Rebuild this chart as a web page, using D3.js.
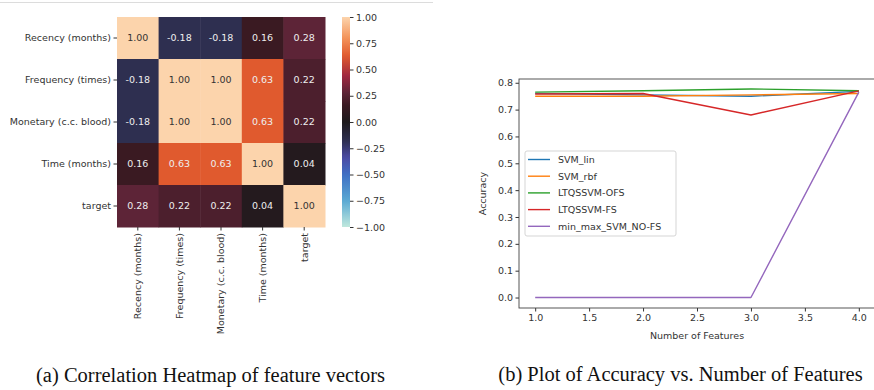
<!DOCTYPE html>
<html>
<head>
<meta charset="utf-8">
<script src="https://cdn.jsdelivr.net/npm/d3@7"></script>
<style>
  html, body { margin: 0; padding: 0; background: #fff; }
  svg { display: block; }
  text { font-family: "DejaVu Sans", sans-serif; fill: #333; }
  .caption { font-family: "Liberation Serif", "Times New Roman", serif; fill: #111; }
</style>
</head>
<body>
<svg id="fig" width="874" height="390"></svg>
<script>
// ---- Correlation heatmap data ----
const features = ["Recency (months)", "Frequency (times)", "Monetary (c.c. blood)", "Time (months)", "target"];
const corr = [
  [1.00, -0.18, -0.18, 0.16, 0.28],
  [-0.18, 1.00, 1.00, 0.63, 0.22],
  [-0.18, 1.00, 1.00, 0.63, 0.22],
  [0.16, 0.63, 0.63, 1.00, 0.04],
  [0.28, 0.22, 0.22, 0.04, 1.00]
];
const colorbarTicks = [1.00, 0.75, 0.50, 0.25, 0.00, -0.25, -0.50, -0.75, -1.00];

// ---- Accuracy vs number of features ----
const numFeatures = [1, 2, 3, 4];
const seriesNames = ["SVM_lin", "SVM_rbf", "LTQSSVM-OFS", "LTQSSVM-FS", "min_max_SVM_NO-FS"];
const svmLin = [0.760, 0.755, 0.750, 0.768];
const svmRbf = [0.750, 0.750, 0.755, 0.760];
const ltqssvmOfs = [0.765, 0.770, 0.777, 0.770];
const ltqssvmFs = [0.758, 0.760, 0.680, 0.770];
const minMaxNoFs = [0.000, 0.000, 0.000, 0.765];
const seriesColors = ["#1f77b4", "#ff7f0e", "#2ca02c", "#d62728", "#9467bd"];
const xTicks = [1.0, 1.5, 2.0, 2.5, 3.0, 3.5, 4.0];
const yTicks = [0.0, 0.1, 0.2, 0.3, 0.4, 0.5, 0.6, 0.7, 0.8];

const svg = d3.select("#fig");

// thin rule across the top of the left panel
svg.append("line").attr("x1", 0).attr("x2", 433).attr("y1", 2.5).attr("y2", 2.5)
  .attr("stroke", "#dcdcdc").attr("stroke-width", 1.2);

// ---------- Heatmap ----------
// diverging palette: ice (negative) -> black (zero) -> fire (positive)
const stops = [
  [0.00, "#bfe8dd"], [0.125, "#5aa9d3"], [0.25, "#3e6fc4"], [0.33, "#4a4aa4"],
  [0.41, "#2e2f50"], [0.50, "#1d1a1c"], [0.58, "#3a1a22"], [0.64, "#5d2437"],
  [0.72, "#a02840"], [0.815, "#e05a2e"], [0.90, "#f3935a"], [1.00, "#fcd4ac"]
];
const palette = d3.scaleLinear().domain(stops.map(s => s[0] * 2 - 1))
  .range(stops.map(s => s[1])).interpolate(d3.interpolateRgb).clamp(true);

const hx = d3.scaleBand().domain(features).range([117, 325]);
const hy = d3.scaleBand().domain(features).range([17, 227]);

const heat = svg.append("g");
const cells = [];
corr.forEach((row, i) => row.forEach((v, j) => cells.push({ r: features[i], c: features[j], v })));

heat.selectAll("rect").data(cells).join("rect")
  .attr("x", d => hx(d.c)).attr("y", d => hy(d.r))
  .attr("width", hx.bandwidth() + 0.5).attr("height", hy.bandwidth() + 0.5)
  .attr("fill", d => palette(d.v));

heat.selectAll("text.ann").data(cells).join("text")
  .attr("class", "ann")
  .attr("x", d => hx(d.c) + hx.bandwidth() / 2)
  .attr("y", d => hy(d.r) + hy.bandwidth() / 2)
  .attr("text-anchor", "middle").attr("dy", "0.35em")
  .attr("font-size", 9.5)
  .style("fill", d => d.v > 0.8 ? "#333" : "#eee")
  .text(d => d.v.toFixed(2));

// row labels (left axis)
const leftAxis = d3.axisLeft(hy).tickSize(3.5).tickPadding(2.5);
const gl = svg.append("g").attr("transform", "translate(117,0)").call(leftAxis);
gl.select(".domain").remove();
gl.selectAll("line").attr("stroke", "#333");
gl.selectAll("text").attr("font-size", 9.5).style("fill", "#333");

// column labels (bottom axis, rotated)
const bottomAxis = d3.axisBottom(hx).tickSize(3.5).tickPadding(2.5);
const gb = svg.append("g").attr("transform", "translate(0,227)").call(bottomAxis);
gb.select(".domain").remove();
gb.selectAll("line").attr("stroke", "#333");
gb.selectAll("text").attr("font-size", 9.5).style("fill", "#333")
  .attr("text-anchor", "end")
  .attr("transform", "rotate(-90)")
  .attr("x", -6).attr("y", 0).attr("dy", "0.35em");

// colorbar
const cb = d3.scaleLinear().domain([-1, 1]).range([227, 17]);
const defs = svg.append("defs");
const grad = defs.append("linearGradient").attr("id", "cbgrad")
  .attr("x1", 0).attr("y1", 1).attr("x2", 0).attr("y2", 0);
d3.range(0, 1.0001, 0.02).forEach(t => {
  grad.append("stop").attr("offset", t).attr("stop-color", palette(t * 2 - 1));
});
svg.append("rect").attr("x", 342).attr("y", 17).attr("width", 8).attr("height", 210)
  .attr("fill", "url(#cbgrad)");
const cbAxis = d3.axisRight(cb).tickValues(colorbarTicks).tickSize(3.5).tickPadding(2.5)
  .tickFormat(d => d3.format(".2f")(d).replace("-", "\u2212"));
const gc = svg.append("g").attr("transform", "translate(350,0)").call(cbAxis);
gc.select(".domain").remove();
gc.selectAll("line").attr("stroke", "#333");
gc.selectAll("text").attr("font-size", 9.5).style("fill", "#333");

// ---------- Line chart ----------
const px = d3.scaleLinear().domain([0.85, 4.15]).range([519, 875]);
const py = d3.scaleLinear().domain([-0.039, 0.814]).range([308, 79]);

const xa = d3.axisBottom(px).tickValues(xTicks).tickFormat(d3.format(".1f")).tickSize(3.5).tickPadding(2.5);
const ya = d3.axisLeft(py).tickValues(yTicks).tickFormat(d3.format(".1f")).tickSize(3.5).tickPadding(2.5);

const gx = svg.append("g").attr("transform", "translate(0,308)").call(xa);
const gy = svg.append("g").attr("transform", "translate(519,0)").call(ya);
[gx, gy].forEach(g => {
  g.select(".domain").remove();
  g.selectAll("line").attr("stroke", "#333");
  g.selectAll("text").attr("font-size", 9.5).style("fill", "#333");
});

const allSeries = [svmLin, svmRbf, ltqssvmOfs, ltqssvmFs, minMaxNoFs];
const line = d3.line().x((d, i) => px(numFeatures[i])).y(d => py(d));
const lines = svg.append("g");
allSeries.forEach((s, k) => {
  lines.append("path").datum(s).attr("d", line)
    .attr("fill", "none").attr("stroke", seriesColors[k])
    .attr("stroke-width", 1.4).attr("stroke-linejoin", "round");
});

// axes frame
svg.append("rect").attr("x", 519).attr("y", 79)
  .attr("width", px.range()[1] - 519).attr("height", 308 - 79)
  .attr("fill", "none").attr("stroke", "#444").attr("stroke-width", 0.9);

svg.append("text").attr("x", 697).attr("y", 339).attr("text-anchor", "middle")
  .attr("font-size", 9.5).text("Number of Features");
svg.append("text").attr("transform", "translate(486,193.5) rotate(-90)")
  .attr("text-anchor", "middle").attr("font-size", 9.5).text("Accuracy");

// legend
const lg = svg.append("g").attr("transform", "translate(525,151)");
lg.append("rect").attr("width", 151).attr("height", 85).attr("rx", 2)
  .attr("fill", "#fff").attr("fill-opacity", 0.8).attr("stroke", "#d5d5d5");
seriesNames.forEach((name, k) => {
  const yy = 8.5 + k * 16.7;
  lg.append("line").attr("x1", 3).attr("x2", 25).attr("y1", yy).attr("y2", yy)
    .attr("stroke", seriesColors[k]).attr("stroke-width", 1.4);
  lg.append("text").attr("x", 33).attr("y", yy).attr("dy", "0.35em")
    .attr("font-size", 9.5).text(name);
});

// captions
svg.append("text").attr("class", "caption").attr("x", 210.5).attr("y", 382)
  .attr("text-anchor", "middle").attr("font-size", 20.5)
  .text("(a) Correlation Heatmap of feature vectors");
svg.append("text").attr("class", "caption").attr("x", 680.5).attr("y", 381)
  .attr("text-anchor", "middle").attr("font-size", 20.5)
  .text("(b) Plot of Accuracy vs. Number of Features");
</script>
</body>
</html>
